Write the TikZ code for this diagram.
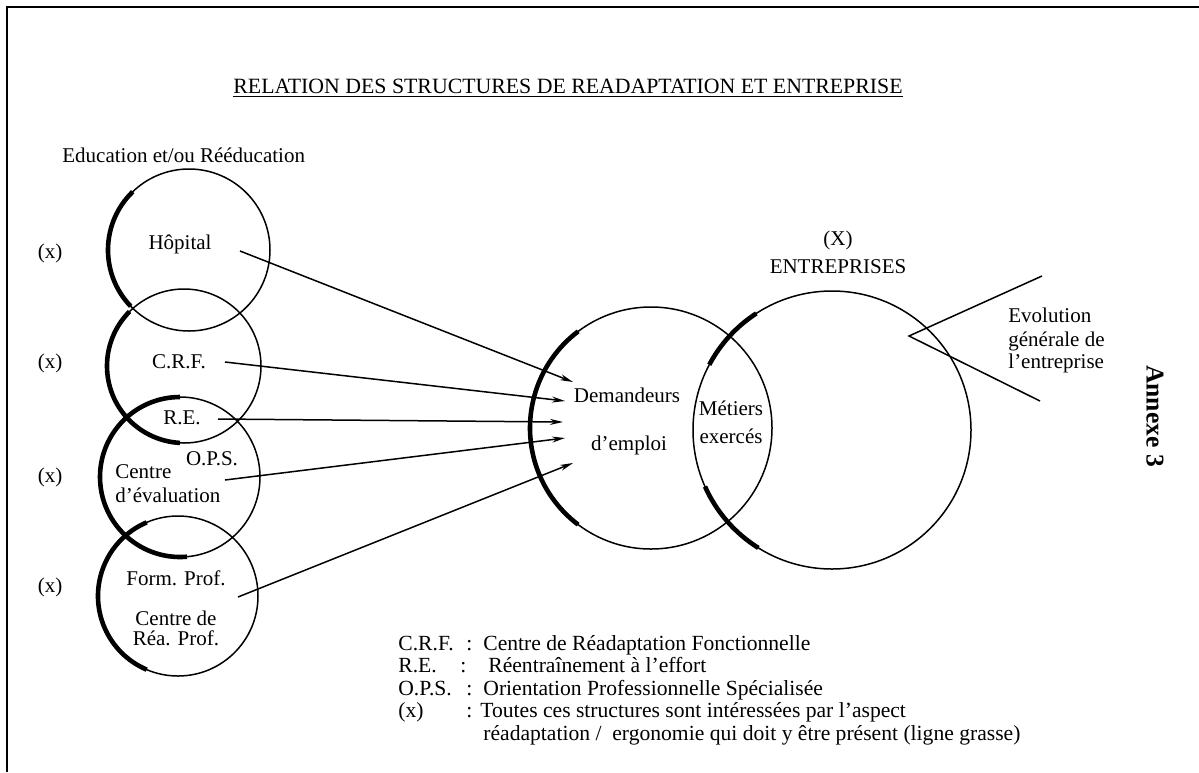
\documentclass[tikz,border=0pt]{standalone}
\usepackage{fontspec}
\setmainfont{Liberation Serif}
\usepackage{tikz}
\usetikzlibrary{arrows.meta,calc}

\tikzset{
  trait/.style={line width=0.75pt},
  grasse/.style={line width=2.3pt},
  lbl/.style={font=\fontsize{10.5}{12}\selectfont, inner sep=0pt, text height=1.45ex, text depth=0.3ex},
  leg/.style={lbl, font=\fontsize{10.8}{12}\selectfont, anchor=west},
  flux/.style={line width=0.75pt, -{Stealth[length=6.5pt,width=3pt]}}
}

\begin{document}
\begin{tikzpicture}[x=0.5pt,y=0.5pt]
\useasboundingbox (0,0) rectangle (1199,-772);
\draw[line width=1pt] (7,-772) -- (7,-7) -- (1199,-7);

\coordinate (H) at (189,-250);
\coordinate (C) at (184,-366);
\coordinate (E) at (180,-477);
\coordinate (F) at (178,-596);
\coordinate (D) at (651,-428);
\coordinate (X) at (832,-430);

% cercles
\draw[trait] (H) circle[radius=81];
\draw[trait] (C) circle[radius=77];
\draw[trait] (E) circle[radius=80];
\draw[trait] (F) circle[radius=80];
\draw[trait] (D) circle[radius=121];
\draw[trait] (X) circle[radius=139];

% ligne grasse
\draw[grasse] (H) ++(134:81) arc[start angle=134,end angle=224,radius=81];
\draw[grasse] (C) ++(135:77) arc[start angle=135,end angle=267,radius=77];
\draw[grasse] (E) ++(90:80) arc[start angle=90,end angle=275,radius=80];
\draw[grasse] (F) ++(113:80) arc[start angle=113,end angle=247,radius=80];
\draw[grasse] (D) ++(127:121) arc[start angle=127,end angle=233,radius=121];
\draw[grasse] (X) ++(123:139) arc[start angle=123,end angle=152,radius=139];
\draw[grasse] (X) ++(204:139) arc[start angle=204,end angle=238,radius=139];

% textes
\node[lbl, font=\fontsize{10.9}{12}\selectfont] (titre) at (568,-88) {\underline{RELATION DES STRUCTURES DE READAPTATION ET ENTREPRISE}};
\node[lbl, anchor=west] (educ) at (62,-157) {Education et/ou Rééducation};
\node[lbl] (x1) at (50,-253) {(x)};
\node[lbl] (x2) at (50,-363) {(x)};
\node[lbl] (x3) at (50,-477) {(x)};
\node[lbl] (x4) at (50,-587) {(x)};
\node[lbl] (hopital) at (180,-244) {Hôpital};
\node[lbl] (crf) at (179,-363) {C.R.F.};
\node[lbl] (re) at (182,-419) {R.E.};
\node[lbl] (ops) at (212,-460) {O.P.S.};
\node[lbl, anchor=west] (eval1) at (115,-473) {Centre};
\node[lbl, anchor=west] (eval2) at (115,-497) {d'évaluation};
\node[lbl] (form) at (176,-580) {Form. Prof.};
\node[lbl] (rea1) at (176,-620) {Centre de};
\node[lbl] (rea2) at (176,-640) {Réa. Prof.};
\node[lbl] (dem1) at (627,-397) {Demandeurs};
\node[lbl] (dem2) at (629,-445) {d'emploi};
\node[lbl] (met1) at (731,-410) {Métiers};
\node[lbl] (met2) at (731,-438) {exercés};
\node[lbl] (grandx) at (838,-240) {(X)};
\node[lbl] (entr) at (838,-268) {ENTREPRISES};
\node[lbl, anchor=west] (evo1) at (1008,-317) {Evolution};
\node[lbl, anchor=west] (evo2) at (1008,-341) {générale de};
\node[lbl, anchor=west] (evo3) at (1008,-363) {l'entreprise};
\node[lbl, font=\fontsize{12.8}{14}\selectfont\bfseries, rotate=-90] (annexe) at (1152,-416) {Annexe 3};

% fleches
\coordinate (a1) at (240,-251); \coordinate (b1) at (573,-382);
\coordinate (a2) at (225,-362); \coordinate (b2) at (565,-401);
\coordinate (a3) at (218,-419); \coordinate (b3) at (563,-422);
\coordinate (a4) at (225,-480); \coordinate (b4) at (565,-438);
\coordinate (a5) at (238,-597); \coordinate (b5) at (573,-463);
\draw[flux] (a1) -- (b1);
\draw[flux] (a2) -- (b2);
\draw[flux] (a3) -- (b3);
\draw[flux] (a4) -- (b4);
\draw[flux] (a5) -- (b5);

% evolution
\coordinate (ev1) at (1042,-276);
\coordinate (ev2) at (909,-336);
\coordinate (ev3) at (1040,-401);
\draw[trait] (ev1) -- (ev2) -- (ev3);

% legende
\node[leg] (l1a) at (398,-645) {C.R.F.};
\node[leg] (l1b) at (466,-645) {:};
\node[leg] (l1c) at (483,-645) {Centre de Réadaptation Fonctionnelle};
\node[leg] (l2a) at (398,-667) {R.E.};
\node[leg] (l2b) at (460,-667) {:};
\node[leg] (l2c) at (488,-667) {Réentraînement à l'effort};
\node[leg] (l3a) at (398,-690) {O.P.S.};
\node[leg] (l3b) at (466,-690) {:};
\node[leg] (l3c) at (483,-690) {Orientation Professionnelle Spécialisée};
\node[leg] (l4a) at (398,-712) {(x)};
\node[leg] (l4b) at (466,-712) {:};
\node[leg] (l4c) at (480,-712) {Toutes ces structures sont intéressées par l'aspect};
\node[leg] (l5c) at (483,-735) {réadaptation /\ \ ergonomie qui doit y être présent (ligne grasse)};
\end{tikzpicture}
\end{document}
